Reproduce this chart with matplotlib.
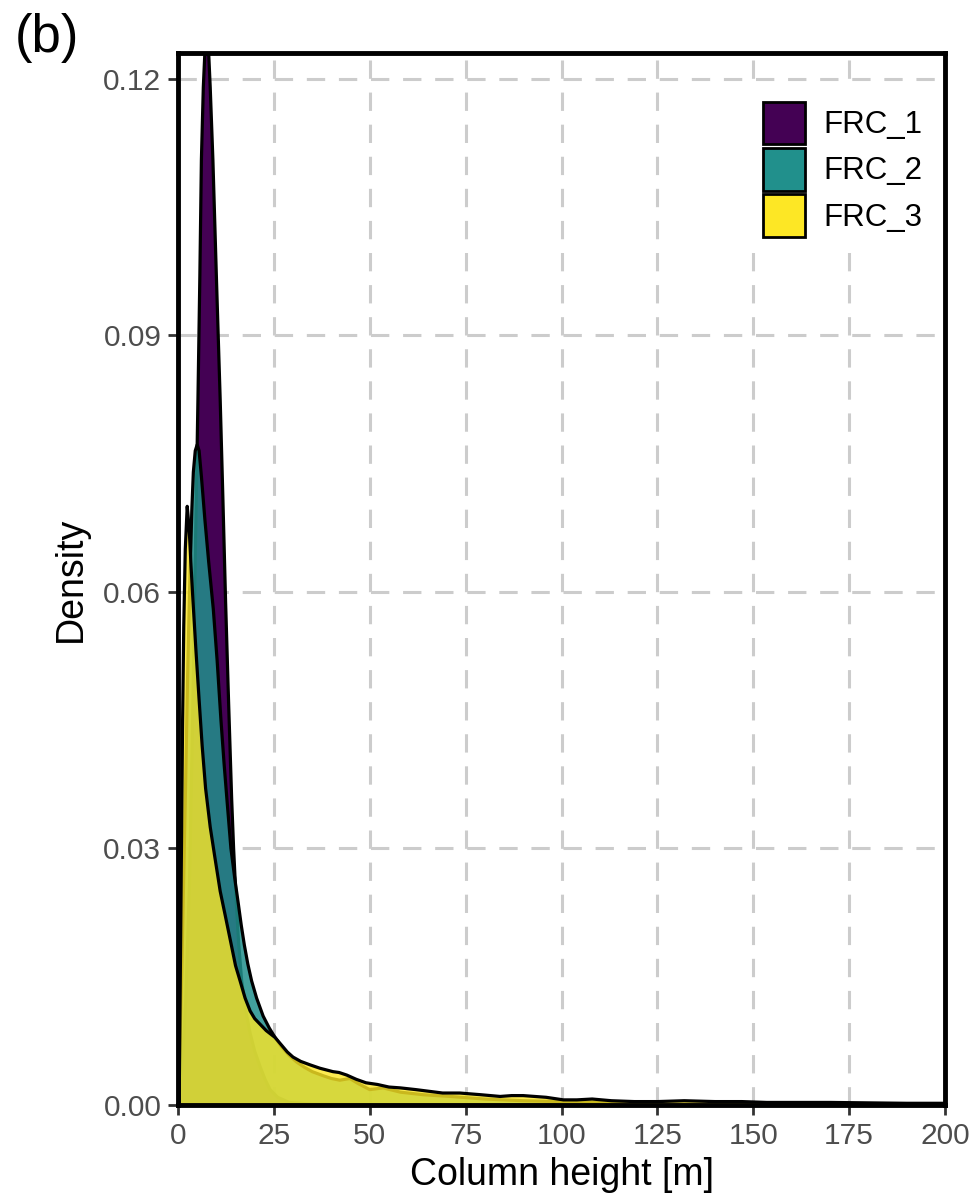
import matplotlib
matplotlib.use("Agg")
import matplotlib.pyplot as plt
from matplotlib.patches import Patch

plt.rcParams['font.family'] = ['Liberation Sans', 'DejaVu Sans']

# values
groups = ["FRC_1", "FRC_2", "FRC_3"]
colors = ["#440154", "#21908C", "#FDE725"]
alphas = [1.0, 0.85, 0.8]

frc1_x = [0, 1, 2, 3, 3.8, 4.5, 5.2, 5.7, 6.1, 6.6, 7.1, 7.5, 7.9, 8.4, 9.1,
          10.0, 11.0, 11.7, 12.4, 13.2, 14.0, 14.5, 15.1, 15.8, 16.6, 17.6,
          18.8, 20, 21.4, 22.7, 24, 26, 29, 35, 50, 200]
frc1_y = [0.0, 0.004, 0.012, 0.026, 0.045, 0.064, 0.0825, 0.097, 0.1105,
          0.119, 0.124, 0.126, 0.124, 0.119, 0.1105, 0.097, 0.0825, 0.071,
          0.059, 0.047, 0.0357, 0.030, 0.0245, 0.019, 0.0145, 0.0112, 0.0084,
          0.0063, 0.0045, 0.003, 0.0018, 0.0009, 0.0003, 0.0001, 0.00005, 0.0]

frc2_x = [0, 0.5, 1.0, 1.5, 2.0, 2.5, 3.0, 3.6, 4.0, 4.5, 5.0, 5.5, 6.1, 7.0,
          8.0, 9.2, 10.2, 11.2, 12.0, 12.8, 13.8, 14.8, 15.8, 16.5, 17.3,
          18.2, 19.2, 20.5, 22.2, 23.8, 25.3, 27, 29, 31, 33, 35, 38, 40,
          42.2, 44.8, 47, 50, 53.5, 58, 64, 71, 80, 90, 100, 110, 125, 150,
          200]
frc2_y = [0.0, 0.007, 0.016, 0.027, 0.038, 0.050, 0.060, 0.0695, 0.074,
          0.0765, 0.0772, 0.0765, 0.0735, 0.0685, 0.0635, 0.058, 0.052, 0.045,
          0.040, 0.0355, 0.030, 0.0265, 0.0233, 0.021, 0.0187, 0.0165, 0.0145,
          0.0125, 0.0104, 0.0090, 0.0079, 0.0068, 0.0058, 0.0050, 0.0044,
          0.0039, 0.0034, 0.0031, 0.0029, 0.0031, 0.0025, 0.0018, 0.0020,
          0.0015, 0.0012, 0.0010, 0.0007, 0.0005, 0.0004, 0.0003, 0.0001,
          0.00005, 0.0]

frc3_x = [0.3, 0.6, 0.9, 1.2, 1.5, 1.9, 2.4, 2.9, 3.4, 3.9, 4.7, 5.5, 6.3,
          7.2, 8.4, 9.6, 11, 12.3, 14, 15, 16.2, 17.5, 18.8, 20, 21.5, 23,
          25.3, 27, 28.5, 30, 32, 34.4, 37, 40.4, 42, 44, 46.5, 49, 52, 55,
          58, 62, 65.5, 69, 73.5, 79, 84, 87, 90, 93, 96, 100.5, 104, 108,
          113, 119, 125, 132, 140, 147, 153.5, 162, 170, 180, 190, 200]
frc3_y = [0.0, 0.015, 0.03, 0.045, 0.056, 0.065, 0.070, 0.0675, 0.063, 0.059,
          0.053, 0.0474, 0.042, 0.037, 0.0325, 0.029, 0.025, 0.0222, 0.0185,
          0.0163, 0.0145, 0.0125, 0.0110, 0.0101, 0.0094, 0.0087, 0.0079,
          0.0070, 0.0062, 0.0056, 0.0051, 0.0047, 0.0043, 0.0039, 0.0038,
          0.0035, 0.0030, 0.0026, 0.0024, 0.0021, 0.0020, 0.0018, 0.0016,
          0.0014, 0.0014, 0.0012, 0.0010, 0.0011, 0.0011, 0.0010, 0.0009,
          0.0006, 0.0006, 0.0007, 0.0005, 0.0004, 0.0004, 0.0005, 0.0004,
          0.0004, 0.0003, 0.0003, 0.0003, 0.00025, 0.0002, 0.0002]

xticks = [0, 25, 50, 75, 100, 125, 150, 175, 200]
yticks = [0.00, 0.03, 0.06, 0.09, 0.12]

fig = plt.figure(figsize=(9.76, 12.04), dpi=100)
ax = fig.add_axes([178 / 976, 1 - 1105 / 1204, 767 / 976, 1052 / 1204])

series = [(frc1_x, frc1_y), (frc2_x, frc2_y), (frc3_x, frc3_y)]
for (xs, ys), c, a in zip(series, colors, alphas):
    ax.fill_between(xs, 0, ys, color=c, alpha=a, linewidth=0, zorder=2)
    ax.plot(xs, ys, color="black", linewidth=2.3, zorder=2,
            solid_joinstyle="round")

ax.set_xlim(0, 200)
ax.set_ylim(0, 0.123)
ax.set_xticks(xticks)
ax.set_yticks(yticks)
ax.set_yticklabels(["%.2f" % v for v in yticks])
ax.tick_params(length=7, width=2, color="#333333", labelsize=21.5,
               labelcolor="#4d4d4d", pad=5)
ax.grid(color="#cccccc", linestyle=(0, (6, 4.5)), linewidth=2.2)
ax.set_axisbelow(True)
for s in ax.spines.values():
    s.set_linewidth(3.5)
    s.set_zorder(5)

ax.set_xlabel("Column height [m]", fontsize=27, labelpad=5)
ax.set_ylabel("Density", fontsize=27, labelpad=10)

handles = [Patch(facecolor=c, edgecolor="black", linewidth=2) for c in colors]
leg = ax.legend(handles, groups, loc="upper left",
                bbox_to_anchor=(0.742, 0.9686), borderaxespad=0,
                fontsize=22.5, handlelength=1.35, handleheight=1.72,
                labelspacing=0.12, handletextpad=0.6, borderpad=0.5,
                frameon=True, fancybox=False)
leg.get_frame().set_facecolor("white")
leg.get_frame().set_edgecolor("none")
leg.get_frame().set_alpha(1)

fig.text(15 / 976, 1 - 13 / 1204, "(b)", fontsize=38, va="top", ha="left")

fig.savefig("out.png", dpi=100)
